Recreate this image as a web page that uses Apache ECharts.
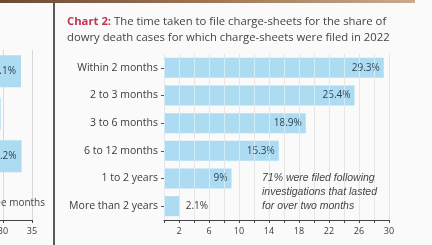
<!DOCTYPE html>
<html>
<head>
<meta charset="utf-8">
<script src="https://cdn.jsdelivr.net/npm/echarts@6/dist/echarts.min.js"></script>
<style>
  html, body { margin: 0; padding: 0; background: #fafafa; }
  #chart { width: 432px; height: 245px; }
</style>
</head>
<body>
<div id="chart"></div>
<script>
// chart 2 (main)
const categories = ['Within 2 months', '2 to 3 months', '3 to 6 months', '6 to 12 months', '1 to 2 years', 'More than 2 years']
const shares = [29.3, 25.4, 18.9, 15.3, 9, 2.1]
const tickLabels = [2, 6, 10, 14, 18, 22, 26, 30]
// cut-off neighbour chart on the left edge
const leftCategories = ['a', 'b', 'c', 'd']
const leftShares = [33.1, 29.6, 33.2, 8]
const leftTicks = [30, 35]

const barColor = '#addcf2'
const textColor = '#3b3b3b'
const font = 'Open Sans'

const chart = echarts.init(document.getElementById('chart'))
chart.setOption({
  backgroundColor: '#fafafa',
  animation: false,
  textStyle: { fontFamily: font },
  grid: [
    { left: -171, width: 203, top: 50, height: 170, outerBoundsMode: 'none', containLabel: false },
    { left: 164, width: 225, top: 54, height: 166, outerBoundsMode: 'none', containLabel: false }
  ],
  xAxis: [
    {
      gridIndex: 0, type: 'value', min: 0, max: 35, interval: 5,
      axisLine: { show: true, lineStyle: { color: '#444', width: 1 } },
      axisTick: { show: true, length: 3, lineStyle: { color: '#444' } },
      axisLabel: {
        fontSize: 9, color: textColor, margin: 7,
        formatter: v => leftTicks.indexOf(v) >= 0 ? String(v) : ''
      },
      splitLine: { show: true, lineStyle: { color: '#d8d8d8' } }
    },
    {
      gridIndex: 1, type: 'value', min: 0, max: 30, interval: 2,
      axisLine: { show: true, lineStyle: { color: '#444', width: 1 } },
      axisTick: { show: true, length: 3, lineStyle: { color: '#444' } },
      axisLabel: {
        fontSize: 9, color: textColor, margin: 7,
        formatter: v => tickLabels.indexOf(v) >= 0 ? String(v) : ''
      },
      splitLine: { show: true, lineStyle: { color: '#d2d2d2' } }
    },
    {
      // light lines drawn over the bars
      gridIndex: 1, type: 'value', min: 0, max: 30, interval: 2, z: 5,
      axisLine: { show: false }, axisTick: { show: false }, axisLabel: { show: false },
      splitLine: { show: true, lineStyle: { color: 'rgba(255,255,255,0.45)' } }
    }
  ],
  yAxis: [
    {
      gridIndex: 0, type: 'category', inverse: true, data: leftCategories,
      axisLine: { show: false }, axisTick: { show: false }, axisLabel: { show: false }
    },
    {
      gridIndex: 1, type: 'category', inverse: true, data: categories,
      axisLine: { show: false },
      axisTick: { show: true, alignWithLabel: true, length: 3, lineStyle: { color: '#555' } },
      axisLabel: { fontSize: 10.5, color: textColor, margin: 6 }
    }
  ],
  series: [
    {
      type: 'bar', xAxisIndex: 0, yAxisIndex: 0, barWidth: 32,
      itemStyle: { color: barColor },
      label: {
        show: true, position: 'insideRight', distance: 5,
        fontSize: 10, color: '#2f4356', formatter: p => p.value + '%'
      },
      data: leftShares
    },
    {
      type: 'bar', xAxisIndex: 1, yAxisIndex: 1, barWidth: 20,
      itemStyle: { color: barColor },
      label: {
        show: true, position: 'insideRight', distance: 4,
        fontSize: 10, color: '#2f4356', formatter: p => p.value + '%'
      },
      data: shares.map((v, i) => i === shares.length - 1
        ? { value: v, label: { position: 'right', distance: 6, color: textColor } }
        : v)
    }
  ],
  graphic: [
    {
      type: 'rect', left: 0, top: 0, silent: true, z: 100,
      shape: { width: 415, height: 3 },
      style: {
        fill: new echarts.graphic.LinearGradient(0, 0, 1, 0, [
          { offset: 0, color: '#6e4a30' },
          { offset: 0.5, color: '#9c7556' },
          { offset: 1, color: '#c9ab8c' }
        ])
      }
    },
    {
      type: 'rect', left: 53, top: 0, silent: true, z: 100,
      shape: { width: 2, height: 245 },
      style: { fill: '#5a5a5a' }
    },
    {
      type: 'text', left: 67, top: 14, silent: true, z: 100,
      style: {
        text: '{r|Chart 2:} The time taken to file charge-sheets for the share of\ndowry death cases for which charge-sheets were filed in 2022',
        font: '11.3px "Open Sans"', fill: '#444', lineHeight: 16,
        rich: { r: { fill: '#c2344f', fontWeight: 'bold', fontSize: 11.3, fontFamily: font } }
      }
    },
    {
      type: 'text', left: 262, top: 171, silent: true, z: 100,
      style: {
        text: '71% were filed following\ninvestigations that lasted\nfor over two months',
        font: 'italic 10.5px "Liberation Sans"', fill: '#444', lineHeight: 14
      }
    },
    {
      type: 'text', right: 387, top: 198, silent: true, z: 100,
      style: { text: 'within three months', font: '10px "Open Sans"', fill: '#444' }
    }
  ]
})
</script>
</body>
</html>
